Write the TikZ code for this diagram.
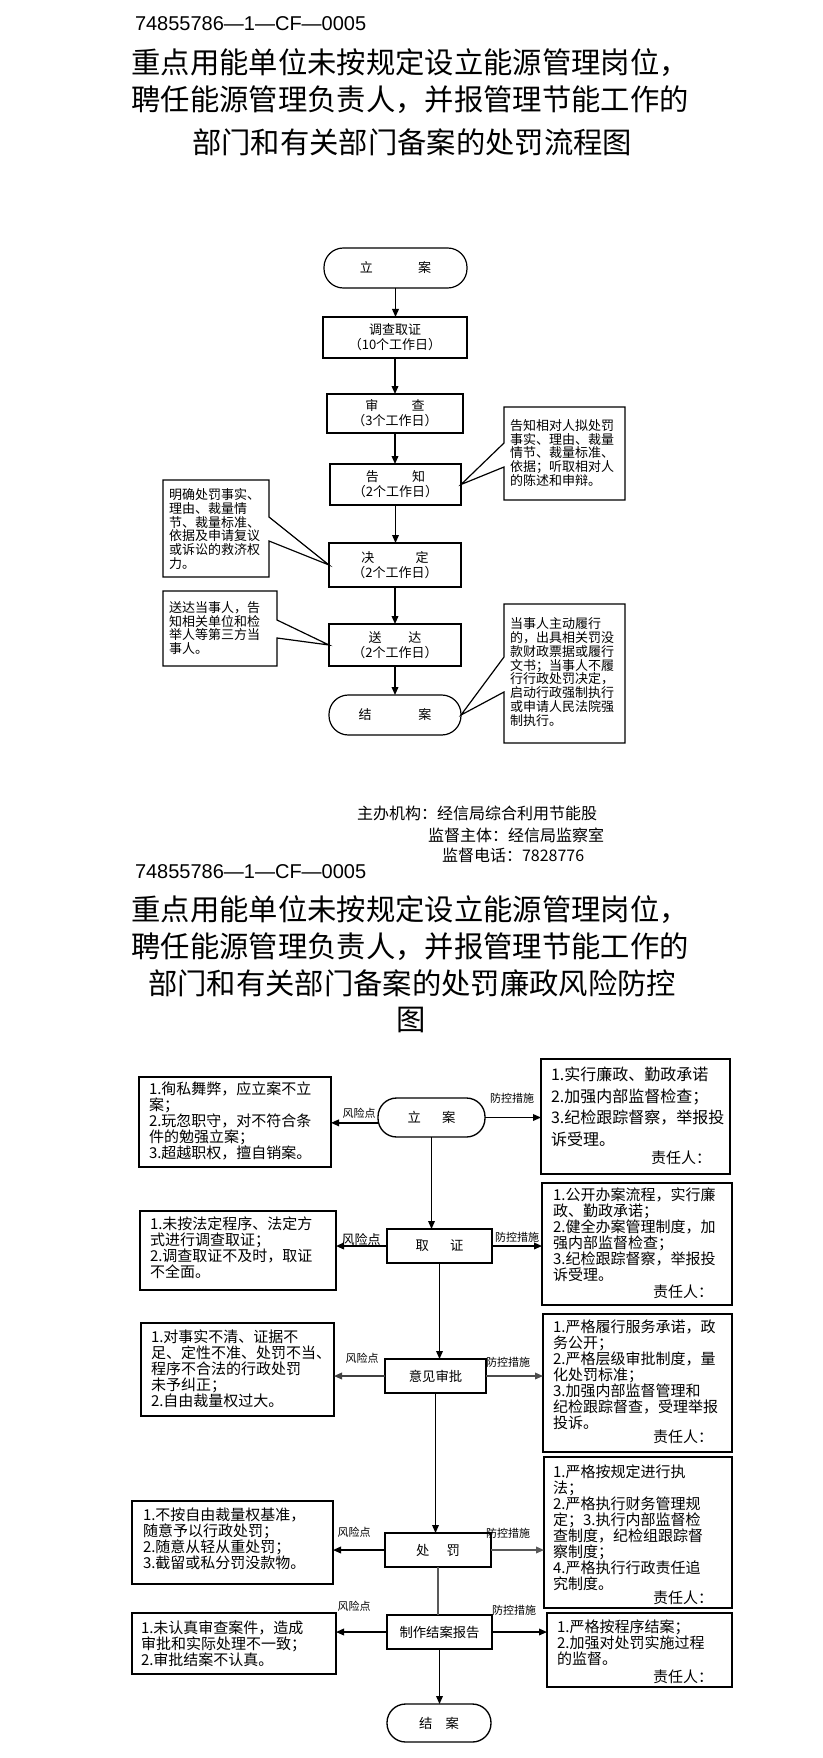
\documentclass[tikz,border=0pt]{standalone}
\usepackage{fontspec}
\setmainfont{Noto Sans CJK SC}
\newfontfamily\numfont{Liberation Sans}
\usetikzlibrary{arrows.meta,calc}
\newcommand{\fs}[2]{\fontsize{#1}{#2}\selectfont}
\begin{document}
\begin{tikzpicture}[x=0.75pt,y=-0.75pt,
 every node/.style={inner sep=0pt,outer sep=0pt},
 sz/.style 2 args={minimum width={#1*0.75pt},minimum height={#2*0.75pt}},
 fbox/.style={draw,line width=0.9pt,align=center,font=\fs{9.75pt}{11.25pt}},
 fstad/.style={fbox,rounded corners=14.5pt},
 callout/.style={draw,line width=0.9pt},
 ntext/.style={align=left,anchor=west,font=\fs{9.75pt}{10.3pt}},
 arr/.style={line width=1pt,-{Triangle[length=6pt,width=5pt]}},
 rbox/.style={draw,line width=1pt},
 rtext/.style={align=left,anchor=west,font=\fs{11.25pt}{12pt}},
 resp/.style={anchor=east,font=\fs{11.25pt}{12pt}},
 mbox/.style={draw,line width=1pt,font=\fs{10pt}{12pt}},
 mstad/.style={mbox,rounded corners=14pt},
 lab/.style={font=\fs{8.25pt}{9pt}},
 ttl/.style={font=\fs{22pt}{26pt}},
 num/.style={font=\numfont\fs{15pt}{18pt},anchor=west},
 foot/.style={font=\fs{12pt}{14pt},anchor=west},
]
\useasboundingbox[fill=white] (0,0) rectangle (823,1758);

% ---------- Part 1 title ----------
\node[num] (n1) at (135,24) {74855786—1—CF—0005};
\node[ttl] (t11) at (410,63) {重点用能单位未按规定设立能源管理岗位，};
\node[ttl] (t12) at (410,100) {聘任能源管理负责人，并报管理节能工作的};
\node[ttl] (t13) at (412,142) {部门和有关部门备案的处罚流程图};

% ---------- Part 1 flow ----------
\node[fstad,sz={143}{40}] (a1) at (395.5,268) {立\hspace{34pt}案};
\node[fbox,sz={144}{41}] (a2) at (395,337.5) {调查取证\\（10个工作日）};
\node[fbox,sz={136}{39}] (a3) at (395,413.5) {审\hspace{25pt}查\\（3个工作日）};
\node[fbox,sz={131}{41}] (a4) at (395.5,484.5) {告\hspace{25pt}知\\（2个工作日）};
\node[fbox,sz={132}{44}] (a5) at (395,565) {决\hspace{31pt}定\\（2个工作日）};
\node[fbox,sz={132}{42}] (a6) at (395,645) {送\hspace{20pt}达\\（2个工作日）};
\node[fstad,sz={132}{40}] (a7) at (395,715) {结\hspace{35pt}案};

\draw[arr] (a1.south) -- (a1.south |- a2.north);
\draw[arr] (a2.south) -- (a2.south |- a3.north);
\draw[arr] (a3.south) -- (a3.south |- a4.north);
\draw[arr] (a4.south) -- (a4.south |- a5.north);
\draw[arr] (a5.south) -- (a5.south |- a6.north);
\draw[arr] (a6.south) -- (a6.south |- a7.north);

% callouts
\draw[callout] (504,407) -- (625,407) -- (625,500) -- (504,500) -- (504,467) -- (a4.east) -- (504,443) -- cycle;
\node[ntext] (c1) at (510,453) {告知相对人拟处罚\\事实、理由、裁量\\情节、裁量标准、\\依据；听取相对人\\的陈述和申辩。};

\draw[callout] (163,480) -- (269,480) -- (269,517) -- (a5.west) -- (269,541) -- (269,577) -- (163,577) -- cycle;
\node[ntext] (c2) at (169,529) {明确处罚事实、\\理由、裁量情\\节、裁量标准、\\依据及申请复议\\或诉讼的救济权\\力。};

\draw[callout] (163,591) -- (277,591) -- (277,620) -- (a6.west) -- (277,638) -- (277,666) -- (163,666) -- cycle;
\node[ntext] (c3) at (169,628) {送达当事人，告\\知相关单位和检\\举人等第三方当\\事人。};

\draw[callout] (504,604) -- (625,604) -- (625,743) -- (504,743) -- (504,692) -- (a7.east) -- (504,657) -- cycle;
\node[ntext] (c4) at (510,672) {当事人主动履行\\的，出具相关罚没\\款财政票据或履行\\文书；当事人不履\\行行政处罚决定，\\启动行政强制执行\\或申请人民法院强\\制执行。};

% footer
\node[foot] (f1) at (357,813) {主办机构：经信局综合利用节能股};
\node[foot] (f2) at (428,835) {监督主体：经信局监察室};
\node[foot] (f3) at (442,855) {监督电话：7828776};

% ---------- Part 2 title ----------
\node[num] (n2) at (135,872) {74855786—1—CF—0005};
\node[ttl] (t21) at (410,910) {重点用能单位未按规定设立能源管理岗位，};
\node[ttl] (t22) at (410,947) {聘任能源管理负责人，并报管理节能工作的};
\node[ttl] (t23) at (412,983) {部门和有关部门备案的处罚廉政风险防控};
\node[ttl] (t24) at (411,1020) {图};

% ---------- Part 2 flow ----------
\node[mstad,sz={107}{39}] (b1) at (431.5,1117.5) {立\hspace{16pt}案};
\node[mbox,sz={105}{34}] (b2) at (439.5,1246) {取\hspace{16pt}证};
\node[mbox,sz={101}{34}] (b3) at (435.5,1376) {意见审批};
\node[mbox,sz={106}{34}] (b4) at (438,1550) {处\hspace{13pt}罚};
\node[mbox,sz={105}{34}] (b5) at (439.5,1632) {制作结案报告};
\node[mstad,sz={104}{38}] (b6) at (439,1723) {结\hspace{10pt}案};

% risk boxes (left)
\node[rbox,sz={192}{90}] (L1) at (235,1122) {};
\node[rbox,sz={196}{79}] (L2) at (238,1250.5) {};
\node[rbox,sz={193}{93}] (L3) at (237.5,1369.5) {};
\node[rbox,sz={201}{83}] (L4) at (232.5,1542.5) {};
\node[rbox,sz={204}{61}] (L5) at (234,1643.5) {};
% control boxes (right)
\node[rbox,sz={189}{115}] (R1) at (635.5,1116.5) {};
\node[rbox,sz={190}{122}] (R2) at (637,1244) {};
\node[rbox,sz={189}{138}] (R3) at (637.5,1383) {};
\node[rbox,sz={188}{151}] (R4) at (638,1532.5) {};
\node[rbox,sz={185}{74}] (R5) at (639.5,1650) {};

\node[rtext] (l1t) at (149,1121) {1.徇私舞弊，应立案不立\\案；\\2.玩忽职守，对不符合条\\件的勉强立案；\\3.超越职权，擅自销案。};
\node[rtext] (l2t) at (150,1247.5) {1.未按法定程序、法定方\\式进行调查取证；\\2.调查取证不及时，取证\\不全面。};
\node[rtext] (l3t) at (151,1368.5) {1.对事实不清、证据不\\足、定性不准、处罚不当、\\程序不合法的行政处罚\\未予纠正；\\2.自由裁量权过大。};
\node[rtext] (l4t) at (143,1538.5) {1.不按自由裁量权基准，\\随意予以行政处罚；\\2.随意从轻从重处罚；\\3.截留或私分罚没款物。};
\node[rtext] (l5t) at (141,1643.5) {1.未认真审查案件，造成\\审批和实际处理不一致；\\2.审批结案不认真。};

\node[rtext,font=\fs{12pt}{16.1pt}] (r1t) at (551,1107) {1.实行廉政、勤政承诺\\2.加强内部监督检查；\\3.纪检跟踪督察，举报投\\诉受理。};
\node[resp] (r1r) at (711,1158) {责任人：};
\node[rtext] (r2t) at (553,1235) {1.公开办案流程，实行廉\\政、勤政承诺；\\2.健全办案管理制度，加\\强内部监督检查；\\3.纪检跟踪督察，举报投\\诉受理。};
\node[resp] (r2r) at (713,1292) {责任人：};
\node[rtext] (r3t) at (553,1375) {1.严格履行服务承诺，政\\务公开；\\2.严格层级审批制度，量\\化处罚标准；\\3.加强内部监督管理和\\纪检跟踪督查，受理举报\\投诉。};
\node[resp] (r3r) at (713,1437) {责任人：};
\node[rtext] (r4t) at (553,1527.5) {1.严格按规定进行执\\法；\\2.严格执行财务管理规\\定；3.执行内部监督检\\查制度，纪检组跟踪督\\察制度；\\4.严格执行行政责任追\\究制度。};
\node[resp] (r4r) at (713,1598) {责任人：};
\node[rtext] (r5t) at (557,1642.5) {1.严格按程序结案；\\2.加强对处罚实施过程\\的监督。};
\node[resp] (r5r) at (713,1677) {责任人：};

% connectors
\draw[arr] ([yshift=-4pt]b1.west) -- ([yshift=-4pt]b1.west -| L1.east);
\draw[arr] (b1.east) -- (b1.east -| R1.west);
\draw[arr] (b1.south) -- (b1.south |- b2.north);
\draw[arr] (b2.west) -- (b2.west -| L2.east);
\draw[arr] (b2.east) -- (b2.east -| R2.west);
\draw[arr] (b2.south) -- (b2.south |- b3.north);
\draw[arr,black!75] (b3.west) -- (b3.west -| L3.east);
\draw[arr,black!70] (b3.east) -- (b3.east -| R3.west);
\draw[arr] (b3.south) -- (b3.south |- b4.north);
\draw[arr] (b4.west) -- (b4.west -| L4.east);
\draw[arr,black!65] (b4.east) -- (b4.east -| R4.west);
\draw[line width=1pt,black!65] (b4.south) -- (b4.south |- b5.north);
\draw[arr] (b5.west) -- (b5.west -| L5.east);
\draw[arr] (b5.east) -- (b5.east -| R5.west);
\draw[arr] (b5.south) -- (b5.south |- b6.north);

% labels
\node[lab] (k1) at (359,1113) {风险点};
\node[lab] (m1) at (512,1098) {防控措施};
\node[lab,font=\fs{9.75pt}{11pt}] (k2) at (361,1240) {风险点};
\node[lab] (m2) at (517,1237) {防控措施};
\node[lab] (k3) at (362,1358) {风险点};
\node[lab] (m3) at (508,1362) {防控措施};
\node[lab] (k4) at (354,1532) {风险点};
\node[lab] (m4) at (508,1533) {防控措施};
\node[lab] (k5) at (354,1606) {风险点};
\node[lab] (m5) at (514,1610) {防控措施};
\end{tikzpicture}
\end{document}
